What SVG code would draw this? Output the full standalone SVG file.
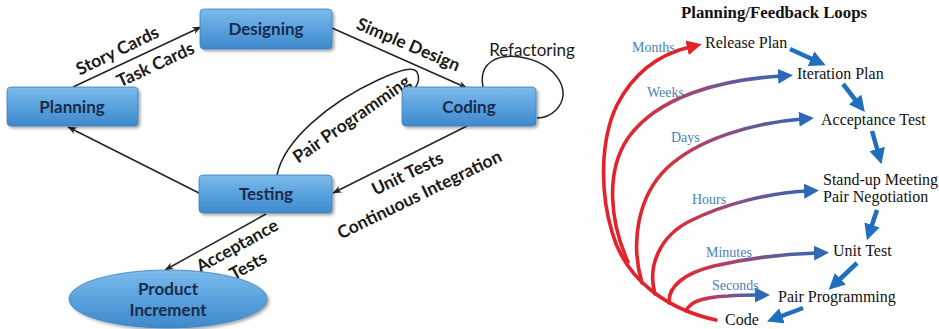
<svg xmlns="http://www.w3.org/2000/svg" width="939" height="329" viewBox="0 0 939 329">
  <defs>
    <style>
      .box { fill: url(#boxFill); stroke: #3a7fbf; stroke-width: 0.8; filter: url(#shadow); }
      .boxText { font-family: Lato, "Open Sans", sans-serif; font-weight: bold; font-size: 17px; fill: #1b2a4a; text-anchor: middle; }
      .lbl { font-family: Lato, "Open Sans", sans-serif; font-weight: bold; font-size: 17.5px; fill: #1a1a1a; text-anchor: middle; }
      .conn { fill: none; stroke: #222; stroke-width: 1.5; }
      .title { font-family: "Liberation Serif", serif; font-weight: bold; font-size: 16.8px; fill: #111; text-anchor: middle; }
      .step { font-family: "Liberation Serif", serif; font-size: 16px; fill: #111; }
      .tlbl { font-family: "Liberation Serif", serif; font-size: 14px; fill: #4a7fb8; }
      .blueArrow { fill: none; stroke: #1f6fbd; stroke-width: 4.5; marker-end: url(#blueHead); }
      .arc { fill: none; stroke-width: 3.6; stroke-linecap: round; }
    </style>
    <linearGradient id="boxFill" x1="0" y1="0" x2="0" y2="1">
      <stop offset="0" stop-color="#7dbbea"/>
      <stop offset="0.5" stop-color="#5aa2de"/>
      <stop offset="1" stop-color="#3f89cb"/>
    </linearGradient>
    <linearGradient id="arcFill" x1="0" y1="0" x2="1" y2="0">
      <stop offset="0" stop-color="#e3222b"/>
      <stop offset="0.2" stop-color="#d4323f"/>
      <stop offset="0.55" stop-color="#8a4f86"/>
      <stop offset="1" stop-color="#2f68b4"/>
    </linearGradient>
    <filter id="shadow" x="-10%" y="-20%" width="125%" height="150%">
      <feGaussianBlur in="SourceAlpha" stdDeviation="1.5"/>
      <feOffset dx="1.5" dy="2" result="b"/>
      <feComponentTransfer><feFuncA type="linear" slope="0.35"/></feComponentTransfer>
      <feMerge><feMergeNode/><feMergeNode in="SourceGraphic"/></feMerge>
    </filter>
    <marker id="thinHead" viewBox="0 0 10 10" refX="9.5" refY="5" markerWidth="9" markerHeight="9" markerUnits="userSpaceOnUse" orient="auto">
      <path d="M0,1 L10,5 L0,9 L3,5 z" fill="#222"/>
    </marker>
    <marker id="blueHead" viewBox="0 0 10 10" refX="2" refY="5" markerWidth="16" markerHeight="16" markerUnits="userSpaceOnUse" orient="auto">
      <path d="M0,0 L10,5 L0,10 z" fill="#1f6fbd"/>
    </marker>
    <marker id="arcBlueHead" viewBox="0 0 10 10" refX="2" refY="5" markerWidth="15" markerHeight="15" markerUnits="userSpaceOnUse" orient="auto">
      <path d="M0,0 L10,5 L0,10 z" fill="#2f68b4"/>
    </marker>
    <marker id="arcRedHead" viewBox="0 0 10 10" refX="2" refY="5" markerWidth="15" markerHeight="15" markerUnits="userSpaceOnUse" orient="auto">
      <path d="M0,0 L10,5 L0,10 z" fill="#e3222b"/>
    </marker>
  </defs>

  <rect width="939" height="329" fill="#ffffff"/>

  <!-- XP workflow: connectors -->
  <g id="connectors">
    <path class="conn" d="M73,87 L201,27" marker-end="url(#thinHead)"/>
    <path class="conn" d="M332,28 L467,88" marker-end="url(#thinHead)"/>
    <path class="conn" d="M467,126 L333,193" marker-end="url(#thinHead)"/>
    <path class="conn" d="M199,193 L68,127" marker-end="url(#thinHead)"/>
    <path class="conn" d="M266,214 L165,270" marker-end="url(#thinHead)"/>
    <!-- refactoring self loop on Coding -->
    <path class="conn" d="M483,87 C478,62 498,54 520,57 C556,62 574,92 556,110 C550,116 543,118 537,118"/>
    <!-- pair programming loop between Testing and Coding -->
    <path class="conn" d="M277,175 C284,140 330,102 378,80 C400,70 413,66 417,72 C420,78 418,84 415,88"/>
  </g>

  <!-- connector labels -->
  <g id="labels">
    <text class="lbl" transform="translate(120,56) rotate(-26)">Story Cards</text>
    <text class="lbl" transform="translate(158,70) rotate(-25)">Task Cards</text>
    <text class="lbl" transform="translate(406,50) rotate(23)">Simple Design</text>
    <text class="lbl" style="font-weight:normal;font-size:17px" x="532" y="56">Refactoring</text>
    <text class="lbl" transform="translate(355,124) rotate(-35)">Pair Programming</text>
    <text class="lbl" transform="translate(410,179) rotate(-26)">Unit Tests</text>
    <text class="lbl" transform="translate(422,200) rotate(-26)">Continuous Integration</text>
    <text class="lbl" transform="translate(240,251) rotate(-29)">Acceptance</text>
    <text class="lbl" transform="translate(251,271) rotate(-29)">Tests</text>
  </g>

  <g id="planning">
    <rect class="box" x="7" y="87" width="131" height="39" rx="4"/>
    <text class="boxText" x="72" y="113">Planning</text>
  </g>
  <g id="designing">
    <rect class="box" x="200" y="9" width="132" height="40" rx="4"/>
    <text class="boxText" x="266" y="35">Designing</text>
  </g>
  <g id="coding">
    <rect class="box" x="402" y="87" width="134" height="39" rx="4"/>
    <text class="boxText" x="469" y="113">Coding</text>
  </g>
  <g id="testing">
    <rect class="box" x="199" y="175" width="133" height="38" rx="4"/>
    <text class="boxText" x="266" y="200">Testing</text>
  </g>
  <g id="product-increment">
    <ellipse class="box" cx="168" cy="299" rx="99" ry="29"/>
    <text class="boxText" x="168" y="295">Product</text>
    <text class="boxText" x="168" y="316">Increment</text>
  </g>

  <!-- Planning / feedback loops -->
  <text class="title" x="774" y="18">Planning/Feedback Loops</text>

  <g id="loop-arcs">
    <path class="arc" stroke="#e3222b" d="M716,320 C670,310 626,282 612,232 C600,192 600,140 617,105 C634,72 660,54 690,47" marker-end="url(#arcRedHead)"/>
    <path class="arc" stroke="url(#arcFill)" d="M628,262 C610,222 605,172 628,138 C658,96 720,80 781,76" marker-end="url(#arcBlueHead)"/>
    <path class="arc" stroke="url(#arcFill)" d="M642,283 C630,242 638,196 667,168 C698,139 752,123 802,119" marker-end="url(#arcBlueHead)"/>
    <path class="arc" stroke="url(#arcFill)" d="M655,294 C647,266 660,236 690,221 C724,204 768,193 807,191" marker-end="url(#arcBlueHead)"/>
    <path class="arc" stroke="url(#arcFill)" d="M669,303 C668,286 685,273 714,266 C748,258 786,254 817,253" marker-end="url(#arcBlueHead)"/>
    <path class="arc" stroke="url(#arcFill)" d="M686,311 C690,301 704,297 728,296 C740,295 750,295 758,295" marker-end="url(#arcBlueHead)"/>
  </g>

  <g id="loop-labels">
    <text class="tlbl" x="632" y="52">Months</text>
    <text class="tlbl" x="647" y="97">Weeks</text>
    <text class="tlbl" x="671" y="142">Days</text>
    <text class="tlbl" x="692" y="204">Hours</text>
    <text class="tlbl" x="706" y="257">Minutes</text>
    <text class="tlbl" x="712" y="290">Seconds</text>
  </g>

  <g id="step-arrows">
    <path class="blueArrow" d="M790,49 L814,60"/>
    <path class="blueArrow" d="M843,84 L857,102"/>
    <path class="blueArrow" d="M872,131 L878,152"/>
    <path class="blueArrow" d="M877,210 L871,228"/>
    <path class="blueArrow" d="M857,263 L838,281"/>
    <path class="blueArrow" d="M803,308 L779,317"/>
  </g>

  <g id="release-plan"><text class="step" x="705" y="48">Release Plan</text></g>
  <g id="iteration-plan"><text class="step" x="797" y="79">Iteration Plan</text></g>
  <g id="acceptance-test"><text class="step" x="821" y="125">Acceptance Test</text></g>
  <g id="standup-meeting">
    <text class="step" x="823" y="185">Stand-up Meeting</text>
    <text class="step" x="823" y="202">Pair Negotiation</text>
  </g>
  <g id="unit-test"><text class="step" x="833" y="256">Unit Test</text></g>
  <g id="pair-programming"><text class="step" x="778" y="302">Pair Programming</text></g>
  <g id="code"><text class="step" x="725" y="325">Code</text></g>
</svg>
